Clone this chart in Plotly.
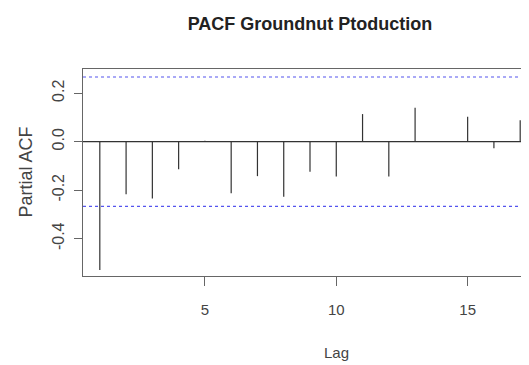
import plotly.graph_objects as go

lags = list(range(1, 18))
pacf = [-0.529, -0.217, -0.234, -0.114, 0.004, -0.213, -0.142, -0.227, -0.124,
        -0.144, 0.114, -0.144, 0.140, 0.003, 0.103, -0.027, 0.089]
ci = 0.267
ytick_vals = [-0.4, -0.2, 0.0, 0.2]
ytick_text = ["-0.4", "-0.2", "0.0", "0.2"]
xtick_vals = [5, 10, 15]
title_text = "PACF Groundnut Ptoduction"

xs, ys = [], []
for lag, v in zip(lags, pacf):
    xs += [lag, lag, None]
    ys += [0, v, None]

fig = go.Figure()
fig.add_trace(go.Scatter(x=xs, y=ys, mode="lines",
                         line=dict(color="#333333", width=1.2),
                         hoverinfo="skip", showlegend=False))
for c in (ci, -ci):
    fig.add_shape(type="line", xref="paper", x0=0, x1=1, yref="y", y0=c, y1=c,
                  line=dict(color="#5555ee", width=1.2, dash="dot"))
fig.add_shape(type="line", xref="paper", x0=0, x1=1, yref="y", y0=0, y1=0,
              line=dict(color="#333333", width=1.2))

fam = "Liberation Sans, Arial, sans-serif"
xtick_font = dict(family=fam, size=15, color="#444444")
ytick_font = dict(family=fam, size=16, color="#444444")

# The page body adds an 8px offset; the layout below compensates for it,
# and the plot's right edge runs past the window edge as in the (cropped) reference.
fig.update_layout(
    width=529, height=365,
    margin=dict(l=75, r=0, t=61, b=97, autoexpand=False),
    paper_bgcolor="white", plot_bgcolor="white",
    title=dict(text="<b>" + title_text + "</b>", xref="container", x=302/529, xanchor="center",
               yref="container", y=1-16/365, yanchor="middle", automargin=False,
               font=dict(family=fam, size=18, color="#222222")),
    xaxis=dict(range=[0.36, 17.64], tickvals=xtick_vals, ticks="outside", ticklen=9,
               tickcolor="#666666", showline=True, linecolor="#666666", linewidth=1.2,
               mirror=True, showgrid=False, zeroline=False, tickfont=xtick_font,
               ticklabelstandoff=11, automargin=False),
    yaxis=dict(range=[-0.554, 0.30], tickvals=ytick_vals, ticktext=ytick_text,
               ticks="outside", ticklen=8, tickcolor="#666666", tickangle=-90,
               showline=True, linecolor="#666666", linewidth=1.2, mirror=True,
               showgrid=False, zeroline=False, tickfont=ytick_font,
               ticklabelstandoff=4, automargin=False),
    annotations=[
        dict(text="Partial ACF", xref="paper", yref="paper", x=0, y=0.5, xshift=-58,
             xanchor="center", yanchor="middle", textangle=-90, showarrow=False,
             font=dict(family=fam, size=18, color="#444444")),
        dict(text="Lag", xref="x", yref="paper", x=10, y=0,
             yshift=-76, xanchor="center", yanchor="middle", showarrow=False,
             font=dict(family=fam, size=15, color="#444444")),
    ],
)
fig.write_html("out.html")
